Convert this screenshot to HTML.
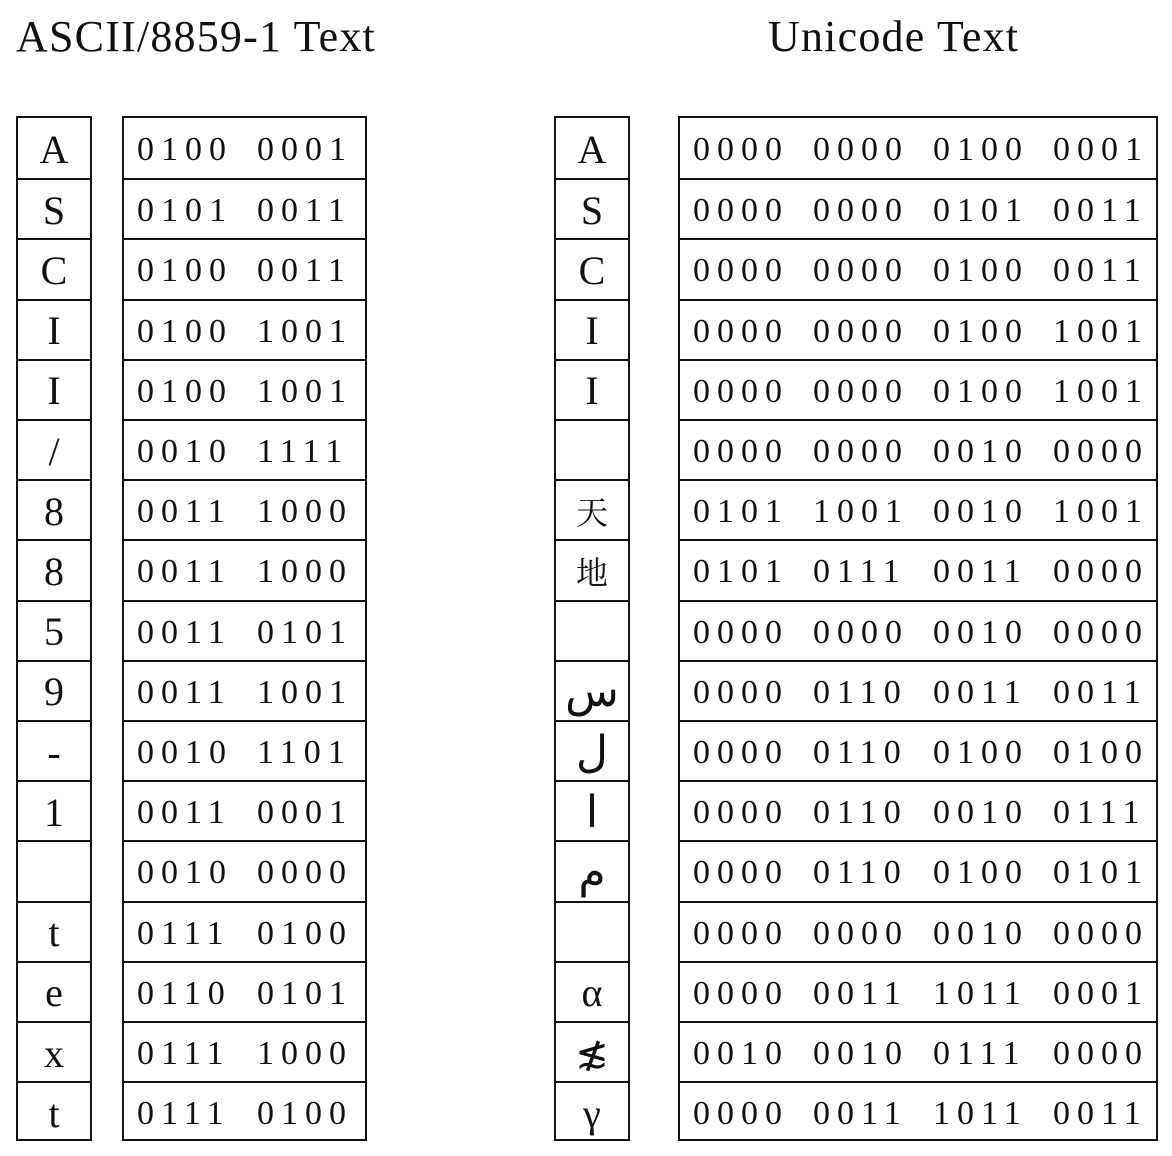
<!DOCTYPE html>
<html><head><meta charset="utf-8">
<style>
body{margin:0;width:1172px;height:1156px;background:#fff;position:relative;overflow:hidden;font-family:"Liberation Serif","Noto Serif CJK SC",serif;color:#111}
.t{position:absolute;font-size:44px;letter-spacing:1.2px;white-space:nowrap}
.box{position:absolute;border:2px solid #111;box-sizing:border-box}
.cell{position:absolute;box-sizing:border-box;border-top:2px solid #111;display:flex;align-items:center;justify-content:center}
.cell.first{border-top:none}
.ch{font-size:40px;padding-top:2px}
.bin{font-size:34px;display:block}
.grp{position:absolute;top:50%;transform:translateY(-45%);letter-spacing:7px;white-space:nowrap}
</style></head><body>
<div class="t" style="left:16px;top:11px">ASCII/8859-1 Text</div>
<div class="t" style="left:768px;top:11px">Unicode Text</div>
<div id="root"></div>
<script>
const asciiChars=["A","S","C","I","I","/","8","8","5","9","-","1","","t","e","x","t"];
const asciiBin=["0100 0001","0101 0011","0100 0011","0100 1001","0100 1001","0010 1111","0011 1000","0011 1000","0011 0101","0011 1001","0010 1101","0011 0001","0010 0000","0111 0100","0110 0101","0111 1000","0111 0100"];
const uniChars=["A","S","C","I","I","","天","地","","س","ل","ا","م","","α","≴","γ"];
const uniBin=["0000 0000 0100 0001","0000 0000 0101 0011","0000 0000 0100 0011","0000 0000 0100 1001","0000 0000 0100 1001","0000 0000 0010 0000","0101 1001 0010 1001","0101 0111 0011 0000","0000 0000 0010 0000","0000 0110 0011 0011","0000 0110 0100 0100","0000 0110 0010 0111","0000 0110 0100 0101","0000 0000 0010 0000","0000 0011 1011 0001","0010 0010 0111 0000","0000 0011 1011 0011"];
const top0=116,rowH=60.2;
const root=document.getElementById('root');
function column(x,w,vals,cls,name){
  const b=document.createElement('div');
  b.className='box';
  
  
  b.style.left=x+'px';b.style.top=top0+'px';b.style.width=w+'px';b.style.height=(rowH*vals.length+2)+'px';
  vals.forEach((v,i)=>{
    const c=document.createElement('div');
    c.className='cell '+cls+(i===0?' first':'');
    
    
    c.style.left='0px';c.style.top=(i*rowH)+'px';c.style.width=(w-4)+'px';c.style.height=rowH+'px';
    if(cls==='bin'){
      v.split(' ').forEach((g,j)=>{
        const s=document.createElement('span');
        s.className='grp';
        
        
        s.style.left=(13+j*120)+'px';
        s.textContent=g;
        c.appendChild(s);
      });
    } else {
      if(/[\u0600-\u06FF]/.test(v)){c.style.fontFamily='"DejaVu Sans",sans-serif';c.style.fontSize='44px';}
      if(/[天地]/.test(v)){c.style.fontSize='32px';}
      c.textContent=v;
    }
    b.appendChild(c);
  });
  root.appendChild(b);
}
column(16,76,asciiChars,'ch','ascii-char');
column(122,245,asciiBin,'bin','ascii-binary');
column(554,76,uniChars,'ch','unicode-char');
column(678,480,uniBin,'bin','unicode-binary');
</script>
</body></html>
